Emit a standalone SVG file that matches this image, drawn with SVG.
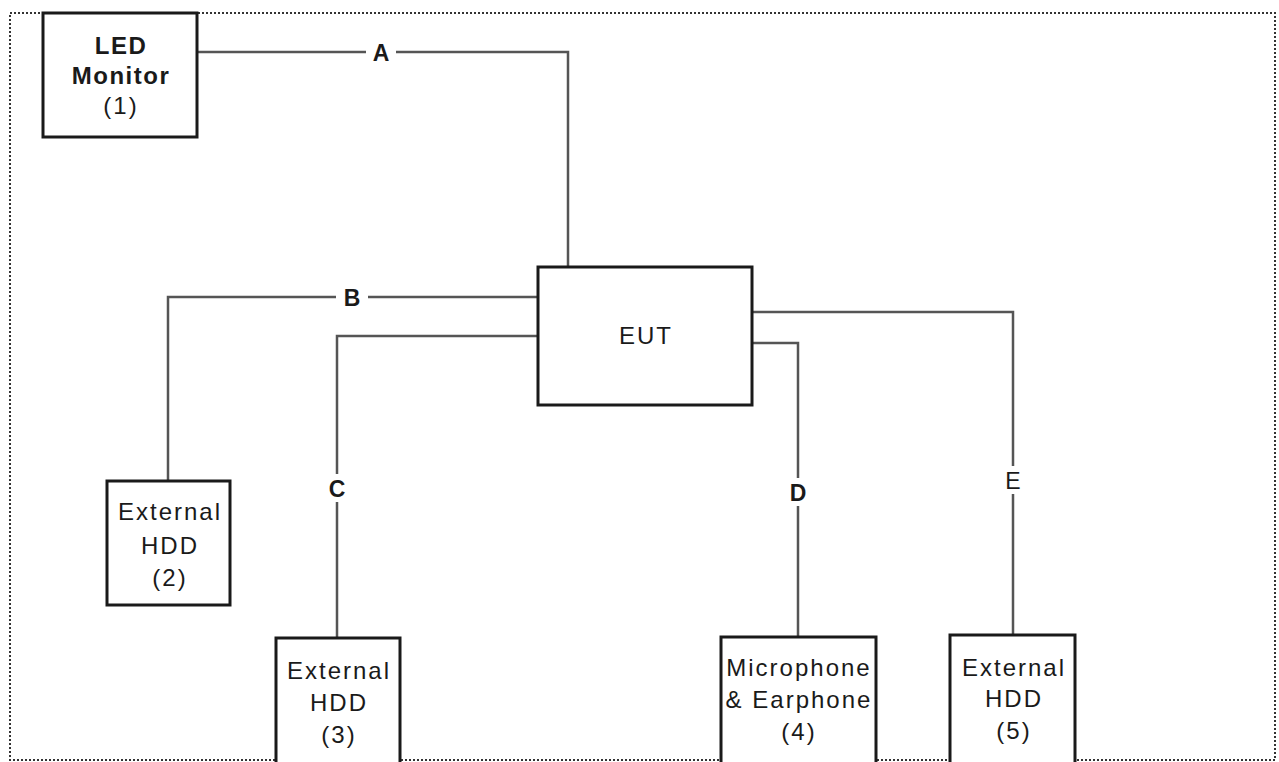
<svg xmlns="http://www.w3.org/2000/svg" width="1279" height="762" viewBox="0 0 1279 762">
<style>
.frame{fill:none;stroke:#333;stroke-width:2;stroke-dasharray:2 2}
.box{fill:#fff;stroke:#1a1a1a;stroke-width:3}
.wire{fill:none;stroke:#555;stroke-width:2.5}
text{font-family:"Liberation Sans",Arial,sans-serif;font-size:24px;fill:#1a1a1a;text-anchor:middle;letter-spacing:2px}
.b{font-weight:bold;letter-spacing:1.5px}
.lbl{font-weight:bold;font-size:23px;letter-spacing:0}
.lblbg{fill:#fff;stroke:none}
</style>
<rect width="1279" height="762" fill="#fff"/>
<rect class="frame" x="10" y="13" width="1265" height="747"/>
<g id="connectors">
<polyline class="wire" points="197,52 568,52 568,267"/>
<polyline class="wire" points="538,297 168,297 168,481"/>
<polyline class="wire" points="538,336 337,336 337,638"/>
<polyline class="wire" points="752,312 1013,312 1013,635"/>
<polyline class="wire" points="752,343 798,343 798,637"/>
<rect class="lblbg" x="366" y="40" width="30" height="26"/>
<text class="lbl" x="381" y="61">A</text>
<rect class="lblbg" x="336" y="284" width="32" height="26"/>
<text class="lbl" x="352" y="306">B</text>
<rect class="lblbg" x="325" y="474" width="24" height="28"/>
<text class="lbl" x="337" y="497">C</text>
<rect class="lblbg" x="786" y="478" width="24" height="28"/>
<text class="lbl" x="798" y="501">D</text>
<rect class="lblbg" x="1001" y="466" width="24" height="28"/>
<text class="lbl" x="1013" y="489" style="font-weight:normal">E</text>
</g>
<g id="led-monitor">
<rect class="box" x="43" y="13" width="154" height="124"/>
<text class="b" x="121" y="54">LED</text>
<text class="b" x="121" y="84">Monitor</text>
<text x="121" y="114">(1)</text>
</g>
<g id="eut">
<rect class="box" x="538" y="267" width="214" height="138"/>
<text x="646" y="344">EUT</text>
</g>
<g id="hdd2">
<rect class="box" x="107" y="481" width="123" height="124"/>
<text x="170" y="520">External</text>
<text x="170" y="554">HDD</text>
<text x="170" y="586">(2)</text>
</g>
<g id="hdd3">
<rect class="box" x="276" y="638" width="124" height="130"/>
<text x="339" y="679">External</text>
<text x="339" y="711">HDD</text>
<text x="339" y="743">(3)</text>
</g>
<g id="mic">
<rect class="box" x="721" y="637" width="155" height="130"/>
<text x="799" y="676">Microphone</text>
<text x="799" y="708">&amp; Earphone</text>
<text x="799" y="740">(4)</text>
</g>
<g id="hdd5">
<rect class="box" x="950" y="635" width="125" height="132"/>
<text x="1014" y="676">External</text>
<text x="1014" y="707">HDD</text>
<text x="1014" y="739">(5)</text>
</g>
</svg>
